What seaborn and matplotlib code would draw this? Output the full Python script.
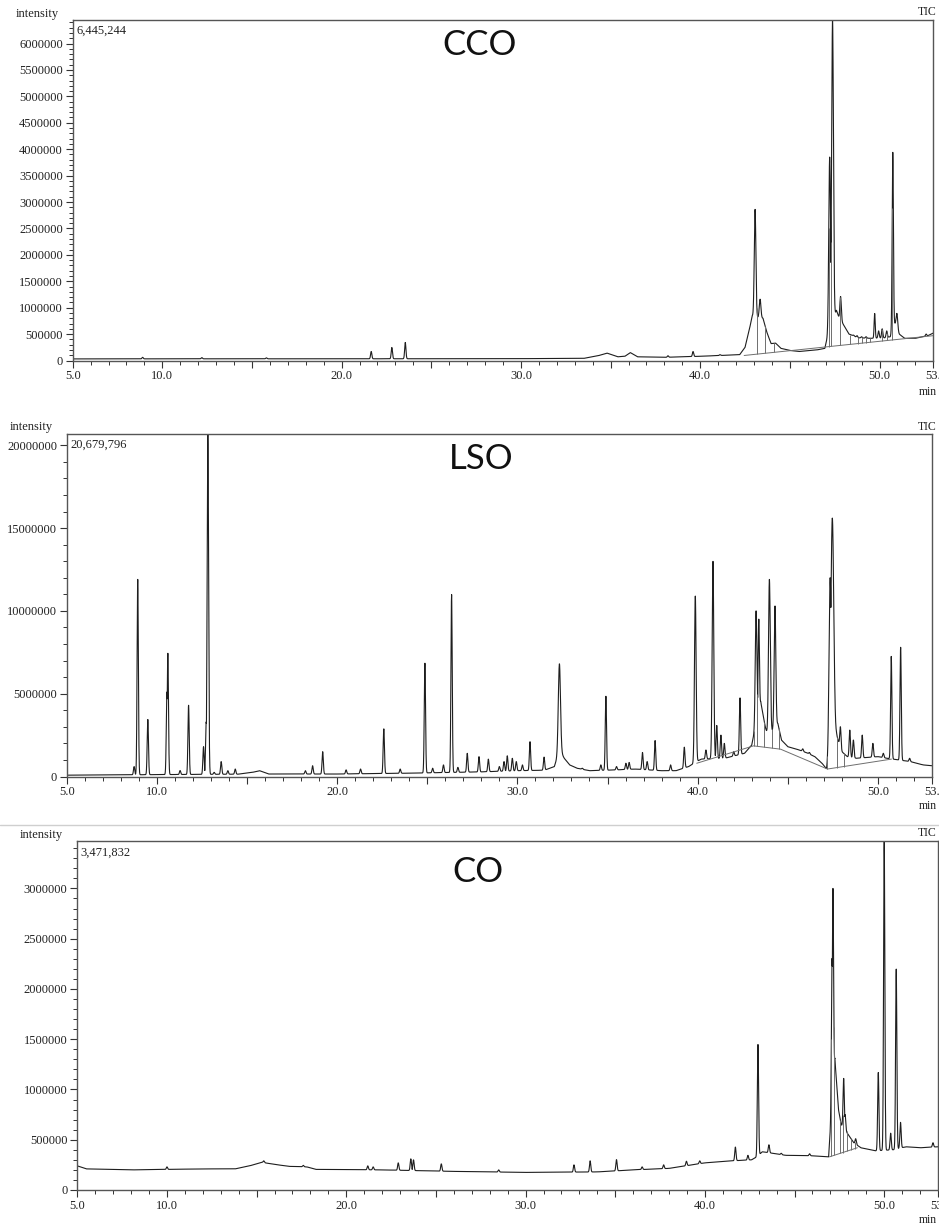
import numpy as np
import pandas as pd
import matplotlib
matplotlib.use("Agg")
import matplotlib.pyplot as plt
from matplotlib.lines import Line2D
from matplotlib.ticker import MultipleLocator, FixedLocator, FixedFormatter, StrMethodFormatter
import seaborn as sns

# ---------------- data ----------------
# CCO
CCO_BASE_T = [5.0, 12.0, 20.0, 30.0, 33.5, 34.3, 34.8, 35.4, 35.8, 36.1, 36.5, 38.0, 40.0, 42.2, 42.5,
              42.75, 42.9, 43.2, 43.5, 43.7, 43.95, 44.2, 44.5, 45.0, 45.5, 46.5, 46.95, 47.1, 47.6,
              47.75, 47.95, 48.3, 48.8, 49.5, 50.3, 50.6, 50.85, 51.1, 51.4, 52.0, 52.7, 53.0]
CCO_BASE_V = [30000, 32000, 32000, 35000, 40000, 90000, 140000, 70000, 80000, 150000, 70000, 60000,
              80000, 110000, 250000, 600000, 850000, 820000, 800000, 550000, 320000, 330000, 230000,
              190000, 170000, 200000, 230000, 450000, 950000, 800000, 700000, 500000, 430000, 420000,
              430000, 450000, 700000, 500000, 420000, 420000, 470000, 520000]
CCO_PEAK_T = [8.9, 12.2, 15.8, 21.65, 22.8, 23.55, 38.2, 39.6, 41.1, 43.06, 43.34, 43.65, 47.22, 47.38,
              47.83, 48.55, 48.75, 49.0, 49.25, 49.73, 49.95, 50.15, 50.4, 50.74, 50.97, 52.6]
CCO_PEAK_H = [60000, 55000, 50000, 170000, 246000, 341000, 90000, 170000, 110000, 2860000, 1160000,
              620000, 3850000, 6445244, 1210000, 480000, 470000, 450000, 450000, 890000, 560000, 600000,
              560000, 3940000, 890000, 500000]
CCO_PEAK_W = [0.035, 0.035, 0.035, 0.035, 0.035, 0.035, 0.035, 0.035, 0.035, 0.045, 0.045, 0.04, 0.05,
              0.05, 0.04, 0.035, 0.035, 0.035, 0.035, 0.03, 0.035, 0.035, 0.035, 0.035, 0.045, 0.035]
CCO_DROP_T = [43.16, 43.62, 44.09, 47.17, 47.3, 47.82, 48.38, 48.81, 49.03, 49.22, 49.46, 50.15,
              50.43, 50.71]
CCO_INT_T = [42.45, 53.0]
CCO_INT_V = [95000, 470000]

# LSO
LSO_BASE_T = [5, 8, 11, 14.5, 15.3, 15.7, 16.2, 20, 24, 28, 30, 31.5, 32.05, 32.35, 32.6, 32.9, 33.3,
              34, 35.5, 36.5, 38, 38.8, 39.5, 39.95, 40.2, 41.5, 42.6, 43.0, 43.5, 43.75, 43.9, 44.15,
              44.45, 44.65, 45.0, 45.5, 46.0, 46.5, 46.9, 47.15, 47.3, 47.7, 48.0, 48.3, 48.8, 50.0,
              50.5, 51.8, 52.5, 53]
LSO_BASE_V = [80000, 100000, 120000, 140000, 250000, 350000, 150000, 150000, 200000, 280000, 350000,
              380000, 600000, 1600000, 1100000, 700000, 500000, 350000, 400000, 450000, 350000, 350000,
              600000, 900000, 1050000, 1100000, 1400000, 1900000, 4500000, 3000000, 2400000, 2800000,
              3200000, 2200000, 1800000, 1650000, 1450000, 1200000, 800000, 450000, 1500000, 2500000,
              1500000, 1200000, 1100000, 1200000, 1100000, 900000, 700000, 650000]
LSO_PEAK_T = [8.74, 8.94, 9.50, 10.56, 10.61, 11.29, 11.76, 12.59, 12.74, 12.83, 13.18, 13.57, 13.94,
              14.35, 18.24, 18.64, 19.2, 20.5, 21.3, 22.59, 23.5, 24.87, 25.3, 25.9, 26.35, 26.7, 27.22,
              27.87, 28.39, 29.0, 29.26, 29.44, 29.72, 29.94, 30.28, 30.7, 31.48, 32.33, 33.6, 34.63,
              34.91, 35.5, 36.02, 36.2, 36.94, 37.2, 37.64, 38.5, 39.26, 39.87, 40.46, 40.85, 41.06,
              41.29, 41.48, 42.0, 42.35, 43.24, 43.39, 43.98, 44.29, 45.83, 46.2, 47.35, 47.47, 47.92,
              48.44, 48.64, 49.13, 49.72, 50.3, 50.74, 51.26, 51.76]
LSO_PEAK_H = [600000, 11900000, 3440000, 5100000, 7450000, 360000, 4300000, 1800000, 3300000, 20679796,
              250000, 900000, 350000, 450000, 350000, 650000, 1500000, 400000, 450000, 2880000, 450000,
              6850000, 500000, 700000, 11000000, 550000, 1400000, 1200000, 1050000, 600000, 900000,
              1250000, 1100000, 900000, 700000, 2100000, 1170000, 6800000, 500000, 700000, 4850000,
              600000, 800000, 850000, 1450000, 900000, 2170000, 700000, 1770000, 10900000, 1600000,
              13000000, 3080000, 2500000, 2000000, 1500000, 4750000, 10000000, 9500000, 11900000,
              10300000, 1670000, 1450000, 12000000, 15600000, 3000000, 2800000, 2200000, 2500000,
              2000000, 1400000, 7250000, 7800000, 1100000]
LSO_PEAK_W = [0.035] * len(LSO_PEAK_T)
for _t, _w in [(32.33, 0.06), (47.47, 0.08), (47.35, 0.06), (39.87, 0.045), (40.85, 0.045),
               (43.98, 0.05), (44.29, 0.045), (43.24, 0.045), (12.83, 0.04)]:
    LSO_PEAK_W[LSO_PEAK_T.index(_t)] = _w
LSO_DROP_T = [43.12, 43.32, 43.7, 44.13, 44.5, 47.2, 47.75, 48.1]
LSO_INT_T = [39.95, 43.1, 44.6, 47.2, 50.75]
LSO_INT_V = [800000, 1850000, 1650000, 450000, 1050000]

# CO
CO_BASE_T = [5.0, 5.5, 8.0, 12.0, 13.8, 14.6, 15.3, 16.0, 16.8, 17.8, 18.3, 22.0, 26.0, 30.0, 34.0,
             36.0, 38.0, 40.0, 41.5, 42.6, 42.9, 43.2, 43.6, 44.5, 46.0, 46.9, 47.25, 47.45, 47.6,
             48.0, 48.3, 48.7, 49.5, 50.5, 51.2, 52.0, 53.0]
CO_BASE_V = [240000, 210000, 200000, 210000, 210000, 240000, 275000, 255000, 235000, 230000, 205000,
             200000, 185000, 175000, 180000, 200000, 215000, 270000, 290000, 300000, 330000, 380000,
             370000, 345000, 340000, 330000, 1300000, 800000, 650000, 550000, 470000, 420000, 390000,
             400000, 430000, 420000, 430000]
CO_PEAK_T = [10.0, 15.4, 17.6, 21.2, 21.5, 22.9, 23.6, 23.75, 25.3, 28.5, 32.7, 33.6, 35.07, 36.5,
             37.7, 38.97, 39.71, 41.70, 42.40, 42.96, 43.57, 44.26, 45.84, 47.09, 47.14, 47.74, 47.82,
             48.41, 49.67, 50.0, 50.36, 50.67, 50.91, 52.72]
CO_PEAK_H = [230000, 290000, 245000, 240000, 230000, 270000, 310000, 300000, 260000, 200000, 250000,
             290000, 302000, 230000, 250000, 286000, 290000, 427000, 345000, 1447000, 450000, 365000,
             360000, 2300000, 3000000, 1110000, 750000, 510000, 1170000, 3471832, 565000, 2200000,
             673000, 470000]
CO_PEAK_W = [0.035] * len(CO_PEAK_T)
CO_DROP_T = [47.05, 47.2, 47.55, 47.68, 47.9, 48.15, 48.35]
CO_INT_T = [46.95, 48.5]
CO_INT_V = [330000, 420000]

X_TICK_VALUES = [5, 10, 15, 20, 25, 30, 35, 40, 45, 50, 53]
X_TICK_LABELS = ["5.0", "10.0", "", "20.0", "", "30.0", "", "40.0", "", "50.0", "53."]

PANELS = [
    dict(name="CCO", maxlabel="6,445,244", ymax=6445244, major=500000, minor=100000,
         base=(CCO_BASE_T, CCO_BASE_V), peaks=(CCO_PEAK_T, CCO_PEAK_H, CCO_PEAK_W),
         drops=CCO_DROP_T, integ=(CCO_INT_T, CCO_INT_V),
         box=(72.7, 20, 933.3, 360.5), title_xy=(480, 45),
         intensity_xy=(16, 14), tic_y=12, min_y=392),
    dict(name="LSO", maxlabel="20,679,796", ymax=20679796, major=5000000, minor=1000000,
         base=(LSO_BASE_T, LSO_BASE_V), peaks=(LSO_PEAK_T, LSO_PEAK_H, LSO_PEAK_W),
         drops=LSO_DROP_T, integ=(LSO_INT_T, LSO_INT_V),
         box=(66.7, 434, 932.0, 776.5), title_xy=(481, 459),
         intensity_xy=(10, 427), tic_y=427, min_y=806),
    dict(name="CO", maxlabel="3,471,832", ymax=3471832, major=500000, minor=100000,
         base=(CO_BASE_T, CO_BASE_V), peaks=(CO_PEAK_T, CO_PEAK_H, CO_PEAK_W),
         drops=CO_DROP_T, integ=(CO_INT_T, CO_INT_V),
         box=(77.3, 841, 938.0, 1190), title_xy=(478, 872),
         intensity_xy=(20, 835), tic_y=833, min_y=1220),
]

# ---------------- drawing ----------------
sns.set_theme(style="white")
plt.rcParams["font.family"] = ["Liberation Serif", "DejaVu Serif"]

W, H = 939, 1225
fig = plt.figure(figsize=(W / 100, H / 100), dpi=100)

t = np.arange(5.0, 53.0001, 0.004)


def chromatogram(base, peaks):
    bt, bv = base
    pt, ph, pw = peaks
    b = np.interp(t, bt, bv)
    sig = b.copy()
    for c, h, w in zip(pt, ph, pw):
        amp = h - np.interp(c, bt, bv)
        sig = np.maximum(sig, b + amp * np.exp(-0.5 * ((t - c) / w) ** 2))
    return sig


LINE = "#1e1e1e"
GRAY = "#6e6e6e"

for p in PANELS:
    l, top, r, bot = p["box"]
    ax = fig.add_axes([l / W, 1 - bot / H, (r - l) / W, (bot - top) / H])
    sig = chromatogram(p["base"], p["peaks"])
    df = pd.DataFrame({"time": t, "intensity": sig})
    sns.lineplot(data=df, x="time", y="intensity", ax=ax, color=LINE, lw=0.8,
                 estimator=None, sort=False)
    # integration baseline and drop lines
    it, iv = p["integ"]
    ax.plot(it, iv, color=GRAY, lw=0.7)
    dt = np.array(p["drops"])
    ax.vlines(dt, np.interp(dt, it, iv), np.interp(dt, t, sig), color=GRAY, lw=0.7)

    ax.set_xlim(5, 53)
    ax.set_ylim(0, p["ymax"])
    ax.set_xlabel("")
    ax.set_ylabel("")
    ax.xaxis.set_major_locator(FixedLocator(X_TICK_VALUES))
    ax.xaxis.set_major_formatter(FixedFormatter(X_TICK_LABELS))
    ax.xaxis.set_minor_locator(MultipleLocator(1))
    ax.yaxis.set_major_locator(MultipleLocator(p["major"]))
    ax.yaxis.set_minor_locator(MultipleLocator(p["minor"]))
    ax.yaxis.set_major_formatter(StrMethodFormatter("{x:.0f}"))
    ax.tick_params(axis="both", which="major", direction="out", length=5, width=0.8,
                   color="#333333", labelsize=9, labelcolor="#222222", pad=2,
                   bottom=True, left=True)
    ax.tick_params(axis="both", which="minor", direction="out", length=3, width=0.7,
                   color="#333333", bottom=True, left=True)
    for s in ax.spines.values():
        s.set_color("#555555")
        s.set_linewidth(1.0)
    ax.grid(False)

    # texts
    ax.text(0.004, 0.985, p["maxlabel"], transform=ax.transAxes, ha="left", va="top",
            fontsize=9, color="#222222")
    fig.text(p["intensity_xy"][0] / W, 1 - p["intensity_xy"][1] / H, "intensity",
             ha="left", va="center", fontsize=9, color="#222222")
    fig.text(937 / W, 1 - p["tic_y"] / H, "TIC", ha="right", va="center", fontsize=8.5,
             color="#222222")
    fig.text(937 / W, 1 - p["min_y"] / H, "min", ha="right", va="center", fontsize=8.5,
             color="#222222")
    fig.text(p["title_xy"][0] / W, 1 - p["title_xy"][1] / H, p["name"], ha="center",
             va="center", fontsize=25, family=["Lato", "DejaVu Sans"], color="#111111")

fig.add_artist(Line2D([0, 1], [1 - 825 / H, 1 - 825 / H], transform=fig.transFigure,
                      color="#cfcfcf", lw=1.0))

fig.savefig("out.png", dpi=100, facecolor="white")
